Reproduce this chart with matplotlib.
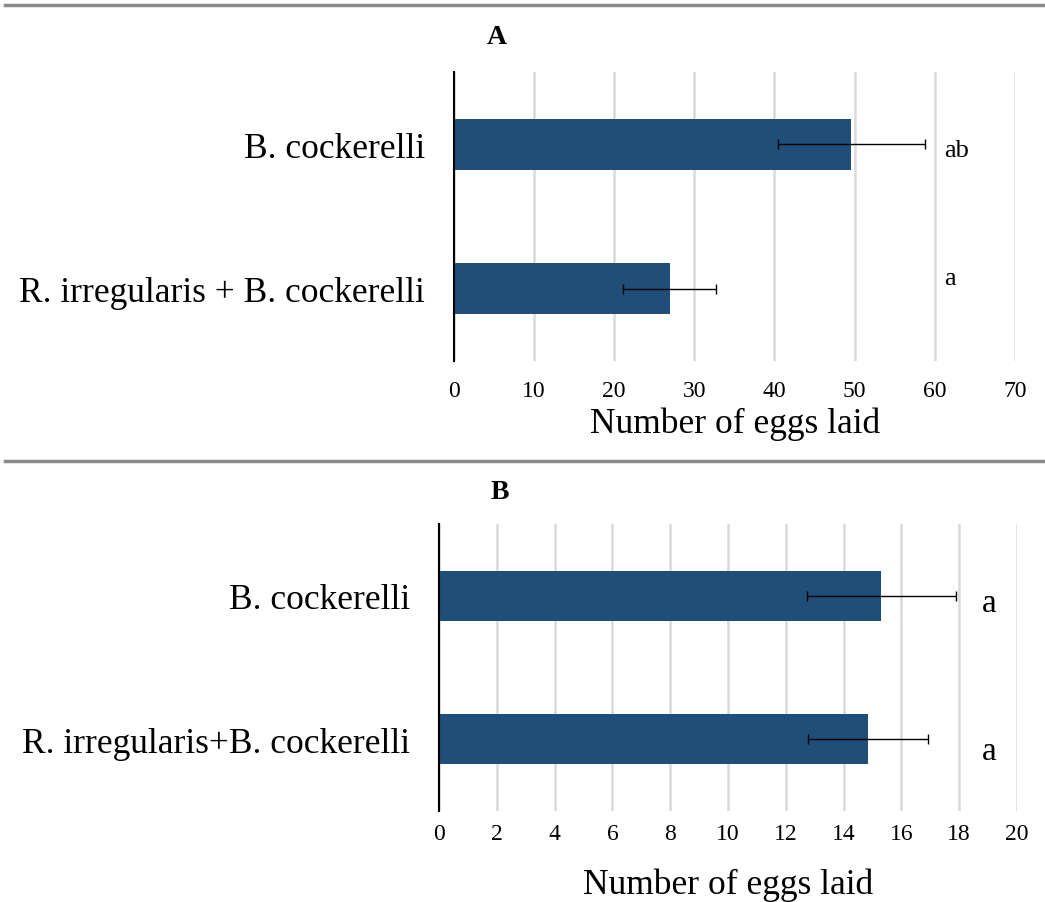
import matplotlib
matplotlib.use("Agg")
import matplotlib.pyplot as plt
from matplotlib.lines import Line2D

plt.rcParams['font.family'] = ['Liberation Serif', 'DejaVu Serif']

# panel A - egg counts
cats_a = ['B. cockerelli', 'R. irregularis + B. cockerelli']
means_a = [49.6, 26.9]
errs_a = [9.2, 5.8]
letters_a = ['ab', 'a']
ticks_a = [0, 10, 20, 30, 40, 50, 60, 70]

# panel B - egg counts
cats_b = ['B. cockerelli', 'R. irregularis+B. cockerelli']
means_b = [15.3, 14.85]
errs_b = [2.58, 2.08]
letters_b = ['a', 'a']
ticks_b = [0, 2, 4, 6, 8, 10, 12, 14, 16, 18, 20]

bar_color = '#1F4E79'
grid_color = '#D9D9D9'


def draw_panel(ax, cats, means, errs, letters, ticks, letter_x, letter_dy,
               letter_size, tick_pad):
    ypos = list(range(len(cats)))[::-1]   # first category on top
    ax.barh(ypos, means, height=0.35, color=bar_color, zorder=2)
    ax.errorbar(means, ypos, xerr=errs, fmt='none', ecolor='black',
                elinewidth=1, capsize=3.5, capthick=1, zorder=3)
    for y, lab, dy in zip(ypos, letters, letter_dy):
        ax.text(letter_x, y + dy, lab, fontsize=letter_size,
                ha='left', va='center')
    ax.set_xlim(ticks[0], ticks[-1])
    ax.set_ylim(-0.5, len(cats) - 0.5)
    ax.set_xticks(ticks)
    ax.set_yticks(ypos)
    ax.set_yticklabels(cats, fontsize=25.5)
    ax.tick_params(axis='x', length=0, labelsize=17, pad=tick_pad)
    ax.tick_params(axis='y', length=0, pad=21)
    ax.grid(axis='x', color=grid_color, linewidth=1.8, zorder=0)
    ax.set_axisbelow(True)
    for s in ['top', 'right', 'bottom']:
        ax.spines[s].set_visible(False)
    ax.spines['left'].set_color('black')
    ax.spines['left'].set_linewidth(1.5)
    ax.spines['left'].set_zorder(4)


fig = plt.figure(figsize=(10.45, 9.03), dpi=100)

ax_a = fig.add_axes([0.4344, 0.5991, 0.5368, 0.3200])
draw_panel(ax_a, cats_a, means_a, errs_a, letters_a, ticks_a,
           letter_x=61.2, letter_dy=[-0.04, 0.076], letter_size=19,
           tick_pad=14)
ax_a.set_xlabel('Number of eggs laid', fontsize=25.5, va='center')
ax_a.xaxis.set_label_coords(0.501, -0.2145)

ax_b = fig.add_axes([0.4201, 0.1008, 0.5531, 0.3178])
draw_panel(ax_b, cats_b, means_b, errs_b, letters_b, ticks_b,
           letter_x=18.8, letter_dy=[-0.05, -0.077], letter_size=24,
           tick_pad=9)
ax_b.set_xlabel('Number of eggs laid', fontsize=25.5, va='center')
ax_b.xaxis.set_label_coords(0.5, -0.254)

# panel titles and separators
fig.text(0.4756, 0.958, 'A', fontsize=20, fontweight='bold',
         ha='center', va='center')
fig.text(0.4785, 0.4551, 'B', fontsize=20, fontweight='bold',
         ha='center', va='center')
for y in [0.9934, 0.4884]:
    fig.add_artist(Line2D([0.005, 1.0], [y, y], transform=fig.transFigure,
                          color='#8C8C8C', linewidth=2.5))

fig.savefig('out.png', dpi=100)
